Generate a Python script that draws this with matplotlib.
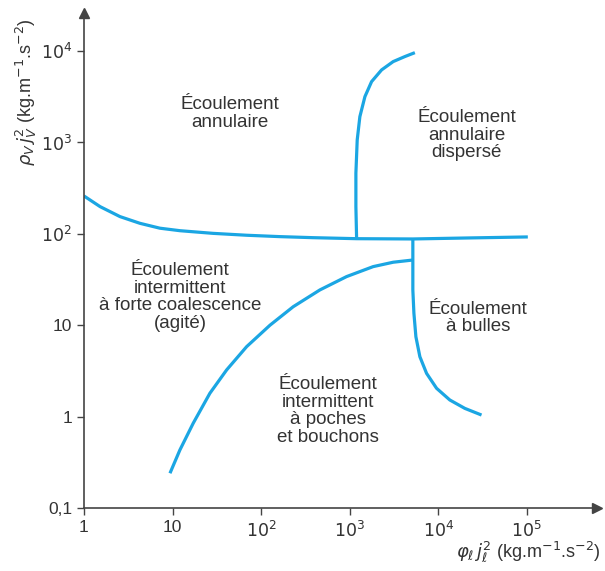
import numpy as np
import matplotlib
matplotlib.use('Agg')
import matplotlib.pyplot as plt

plt.rcParams['font.family'] = ['Liberation Sans', 'DejaVu Sans']
plt.rcParams['mathtext.fontset'] = 'dejavusans'

# boundaries (x = phi_l j_l^2, y = rho_v j_v^2)
top_x = [1.0, 1.52, 2.55, 4.29, 7.2, 12.1, 28.6, 68.6, 163, 385, 1197, 5165, 22700, 102600]
top_y = [259, 198, 154, 130, 115, 108, 101, 96.3, 93, 90.6, 88.3, 87.7, 90, 92.3]

disp_x = [1197, 1175, 1175, 1216, 1303, 1486, 1767, 2291, 3097, 4198, 5445]
disp_y = [88.3, 198, 459, 1062, 1910, 3162, 4613, 6194, 7638, 8670, 9570]

slug_x = [9.35, 12.1, 17.1, 26.4, 40.8, 68.6, 126, 230, 461, 923, 1841, 3097, 5165]
slug_y = [0.240, 0.431, 0.845, 1.80, 3.24, 5.82, 10.0, 15.9, 24.3, 34.0, 43.7, 48.8, 51.6]

bub_x = [5165, 5165, 5310, 5590, 6200, 7380, 9570, 13500, 19950, 30800]
bub_y = [87.7, 24.3, 13.5, 7.48, 4.52, 2.97, 2.04, 1.52, 1.23, 1.04]

xticks = [1, 10, 100, 1000, 1e4, 1e5]
xtick_labels = ['1', '10', '$10^2$', '$10^3$', '$10^4$', '$10^5$']
yticks = [0.1, 1, 10, 100, 1000, 1e4]
ytick_labels = ['0,1', '1', '10', '$10^2$', '$10^3$', '$10^4$']

regions = ['Écoulement\nannulaire',
           'Écoulement\nannulaire\ndispersé',
           'Écoulement\nintermittent\nà forte coalescence\n(agité)',
           'Écoulement\nà bulles',
           'Écoulement\nintermittent\nà poches\net bouchons']
region_x = [44.5, 20900, 12.1, 28200, 568]
region_y = [2060, 1200, 20.4, 12.0, 1.15]

blue = '#1ba6e3'
grey = '#444444'
txt = '#333333'

fig = plt.figure(figsize=(6.05, 5.71), dpi=100)
ax = fig.add_axes([0.1388, 0.1103, 0.848, 0.867])

for xs, ys in [(top_x, top_y), (disp_x, disp_y), (slug_x, slug_y), (bub_x, bub_y)]:
    ax.plot(xs, ys, color=blue, lw=2.3, solid_capstyle='butt', solid_joinstyle='round')

ax.set_xscale('log')
ax.set_yscale('log')
ax.set_xlim(1, 6.2e5)
ax.set_ylim(0.1, 2.6e4)

ax.set_xticks(xticks)
ax.set_xticklabels(xtick_labels)
ax.set_yticks(yticks)
ax.set_yticklabels(ytick_labels)
ax.minorticks_off()
ax.tick_params(axis='both', colors=grey, labelcolor=txt, labelsize=12.5, length=5, width=1)

for s in ['top', 'right']:
    ax.spines[s].set_visible(False)
for s in ['left', 'bottom']:
    ax.spines[s].set_color(grey)
    ax.spines[s].set_linewidth(1.2)

# arrowheads on the axes
ax.plot(1, 0, '>', color=grey, ms=7, transform=ax.transAxes, clip_on=False)
ax.plot(0, 1, '^', color=grey, ms=7, transform=ax.transAxes, clip_on=False)

for t, x, y in zip(regions, region_x, region_y):
    ax.text(x, y, t, ha='center', va='center', fontsize=13.5, color=txt, linespacing=1.05)

fig.text(0.044, 0.838, r'$\rho_V\, j_V^2$ (kg.m$^{-1}$.s$^{-2}$)', rotation=90,
         ha='center', va='center', fontsize=13, color=txt)
fig.text(0.993, 0.032, r'$\varphi_\ell\, j_\ell^2$ (kg.m$^{-1}$.s$^{-2}$)',
         ha='right', va='center', fontsize=13, color=txt)

fig.savefig('out.png', dpi=100)
